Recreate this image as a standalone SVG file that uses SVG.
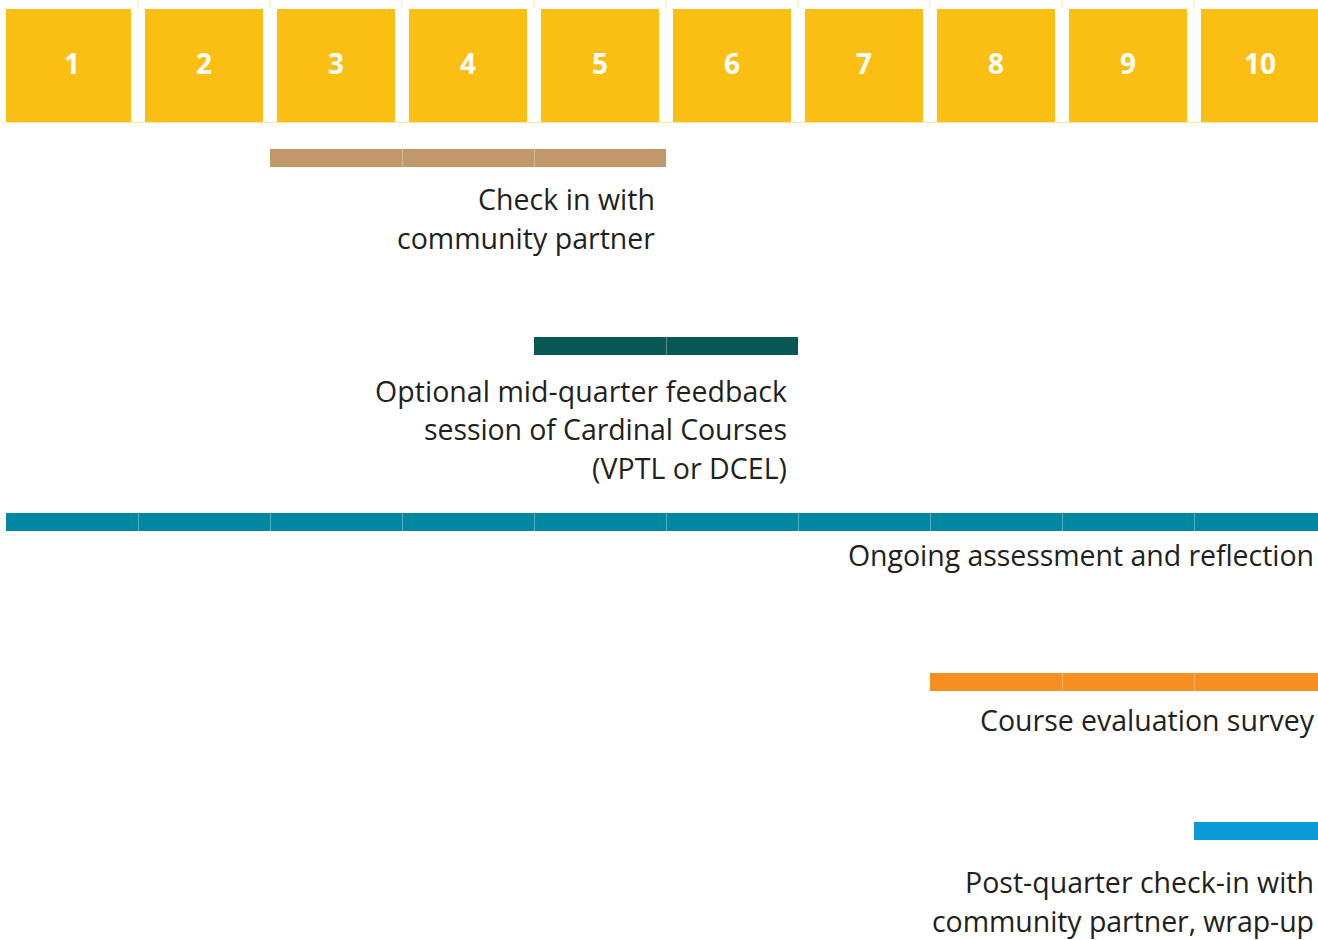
<svg xmlns="http://www.w3.org/2000/svg" width="1318" height="940" viewBox="0 0 1318 940">
  <style>
    .week { fill: #FBBF14; }
    .wnum { font-family: "Open Sans", "Noto Sans", sans-serif; font-weight: 700; font-size: 28px; fill: #FFFFFF; text-anchor: middle; }
    .tick { stroke: #FDE7A8; stroke-width: 1; }
    .sep { stroke: #FFFFFF; stroke-opacity: 0.35; stroke-width: 1; }
    .label { font-family: "Open Sans", "Noto Sans", sans-serif; font-size: 28.5px; fill: #231F20; text-anchor: end; font-variant-ligatures: none; }
    .tan { fill: #C0986A; }
    .deep { fill: #075754; }
    .teal { fill: #0088A3; }
    .orange { fill: #F58F20; }
    .blue { fill: #0A9AD7; }
  </style>

  <rect width="1318" height="940" fill="#FFFFFF"/>

  <!-- week header row -->
  <g id="weeks">
    <g class="ticks">
      <line class="tick" x1="138" y1="0" x2="138" y2="8"/>
      <line class="tick" x1="270" y1="0" x2="270" y2="8"/>
      <line class="tick" x1="402" y1="0" x2="402" y2="8"/>
      <line class="tick" x1="534" y1="0" x2="534" y2="8"/>
      <line class="tick" x1="666" y1="0" x2="666" y2="8"/>
      <line class="tick" x1="798" y1="0" x2="798" y2="8"/>
      <line class="tick" x1="930" y1="0" x2="930" y2="8"/>
      <line class="tick" x1="1062" y1="0" x2="1062" y2="8"/>
      <line class="tick" x1="1194" y1="0" x2="1194" y2="8"/>
      <line class="tick" x1="6" y1="122.5" x2="1318" y2="122.5"/>
    </g>
    <g id="week-1"><rect class="week" x="6" y="9" width="125" height="113"/><text class="wnum" x="72" y="74">1</text></g>
    <g id="week-2"><rect class="week" x="145" y="9" width="118" height="113"/><text class="wnum" x="204" y="74">2</text></g>
    <g id="week-3"><rect class="week" x="277" y="9" width="118" height="113"/><text class="wnum" x="336" y="74">3</text></g>
    <g id="week-4"><rect class="week" x="409" y="9" width="118" height="113"/><text class="wnum" x="468" y="74">4</text></g>
    <g id="week-5"><rect class="week" x="541" y="9" width="118" height="113"/><text class="wnum" x="600" y="74">5</text></g>
    <g id="week-6"><rect class="week" x="673" y="9" width="118" height="113"/><text class="wnum" x="732" y="74">6</text></g>
    <g id="week-7"><rect class="week" x="805" y="9" width="118" height="113"/><text class="wnum" x="864" y="74">7</text></g>
    <g id="week-8"><rect class="week" x="937" y="9" width="118" height="113"/><text class="wnum" x="996" y="74">8</text></g>
    <g id="week-9"><rect class="week" x="1069" y="9" width="118" height="113"/><text class="wnum" x="1128" y="74">9</text></g>
    <g id="week-10"><rect class="week" x="1201" y="9" width="117" height="113"/><text class="wnum" x="1260" y="74">10</text></g>
  </g>

  <!-- activity spans -->
  <g id="checkin">
    <rect class="tan" x="270" y="149" width="396" height="18"/>
    <line class="sep" x1="402.5" y1="149" x2="402.5" y2="167"/>
    <line class="sep" x1="534.5" y1="149" x2="534.5" y2="167"/>
    <text class="label" x="655" y="210" textLength="177">Check in with</text>
    <text class="label" x="655" y="249" textLength="258">community partner</text>
  </g>

  <g id="midquarter">
    <rect class="deep" x="534" y="337" width="264" height="18"/>
    <line class="sep" x1="666.5" y1="337" x2="666.5" y2="355"/>
    <text class="label" x="787" y="402" textLength="412">Optional mid-quarter feedback</text>
    <text class="label" x="787" y="440" textLength="363">session of Cardinal Courses</text>
    <text class="label" x="787" y="479" textLength="195">(VPTL or DCEL)</text>
  </g>

  <g id="ongoing">
    <rect class="teal" x="6" y="513" width="1312" height="18"/>
    <line class="sep" x1="138.5" y1="513" x2="138.5" y2="531"/>
    <line class="sep" x1="270.5" y1="513" x2="270.5" y2="531"/>
    <line class="sep" x1="402.5" y1="513" x2="402.5" y2="531"/>
    <line class="sep" x1="534.5" y1="513" x2="534.5" y2="531"/>
    <line class="sep" x1="666.5" y1="513" x2="666.5" y2="531"/>
    <line class="sep" x1="798.5" y1="513" x2="798.5" y2="531"/>
    <line class="sep" x1="930.5" y1="513" x2="930.5" y2="531"/>
    <line class="sep" x1="1062.5" y1="513" x2="1062.5" y2="531"/>
    <line class="sep" x1="1194.5" y1="513" x2="1194.5" y2="531"/>
    <text class="label" x="1314" y="566" textLength="466">Ongoing assessment and reflection</text>
  </g>

  <g id="evaluation">
    <rect class="orange" x="930" y="673" width="388" height="18"/>
    <line class="sep" x1="1062.5" y1="673" x2="1062.5" y2="691"/>
    <line class="sep" x1="1194.5" y1="673" x2="1194.5" y2="691"/>
    <text class="label" x="1314" y="731" textLength="334">Course evaluation survey</text>
  </g>

  <g id="postquarter">
    <rect class="blue" x="1194" y="822" width="124" height="18"/>
    <text class="label" x="1314" y="893" textLength="349">Post-quarter check-in with</text>
    <text class="label" x="1314" y="932" textLength="382">community partner, wrap-up</text>
  </g>
</svg>
